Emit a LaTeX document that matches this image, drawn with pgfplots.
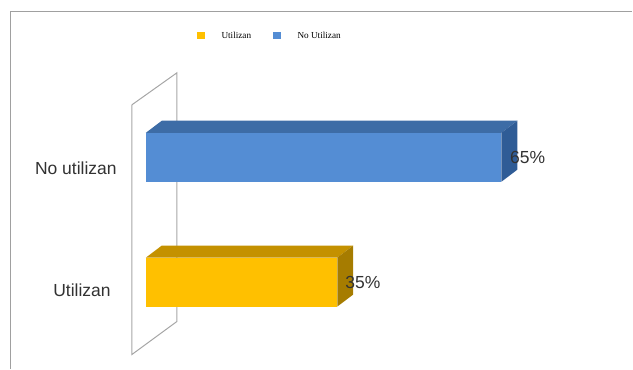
\documentclass[border=0pt]{standalone}
\usepackage{pgfplots}
\pgfplotsset{compat=1.18}
\usepackage{fontspec}
\setmainfont{Liberation Sans}
\newfontfamily\legfont{Liberation Serif}
\definecolor{blueF}{RGB}{84,141,212}
\definecolor{blueT}{RGB}{61,108,166}
\definecolor{blueS}{RGB}{47,92,150}
\definecolor{yelF}{RGB}{255,192,0}
\definecolor{yelT}{RGB}{196,145,0}
\definecolor{yelS}{RGB}{166,124,0}
\definecolor{wallgray}{RGB}{166,166,166}
\definecolor{framegray}{RGB}{160,160,160}
\definecolor{txtgray}{RGB}{50,50,50}
\begin{document}
\begin{tikzpicture}
\begin{axis}[
  width=633pt, height=369pt, scale only axis,
  xmin=-26.657, xmax=88.917, ymin=-0.692, ymax=2.26,
  axis lines=none, xtick=\empty, ytick=\empty,
  clip=false,
  /pgf/number format/assume math mode=true,
  legend image code/.code={\fill[#1,draw=none] (0pt,-3.7pt) rectangle (7.5pt,3.7pt);},
  legend style={at={(rel axis cs:0.3117,0.9141)}, anchor=north west,
    draw=none, fill=none, inner sep=0pt, outer sep=0pt,
    nodes={inner sep=0pt},
    font=\legfont\fontsize{9.2}{10}\selectfont,
    legend columns=2,
    /tikz/every odd column/.append style={column sep=17pt},
    /tikz/every even column/.append style={column sep=22pt}},
  legend cell align=left,
]
% bounding frame
\path (rel axis cs:0,0) rectangle (rel axis cs:1,1);
\draw[framegray, line width=1.6pt] (rel axis cs:0.0166,0) -- (rel axis cs:0.0166,0.9688) -- (rel axis cs:1,0.9688);
% back wall
\addplot[draw=wallgray, line width=1pt, fill=none, forget plot] coordinates {(-2.556,1.42) (5.66,1.676) (5.66,-0.316) (-2.556,-0.58) (-2.556,1.42)};
% 3D faces
\addplot[fill=yelT, draw=none, forget plot] coordinates {(0,0.196) (35,0.196) (37.92,0.293) (2.92,0.293) (0,0.196)};
\addplot[fill=yelS, draw=none, forget plot] coordinates {(35,0.196) (37.92,0.293) (37.92,-0.099) (35,-0.196) (35,0.196)};
\addplot[fill=blueT, draw=none, forget plot] coordinates {(0,1.196) (65,1.196) (67.92,1.293) (2.92,1.293) (0,1.196)};
\addplot[fill=blueS, draw=none, forget plot] coordinates {(65,1.196) (67.92,1.293) (67.92,0.901) (65,0.804) (65,1.196)};
% front faces (legend entries)
\addplot[xbar, bar width=0.392, bar shift=0pt, fill=yelF, draw=none,
  point meta=x, nodes near coords={\pgfmathprintnumber{\pgfplotspointmeta}\%},
  every node near coord/.append style={anchor=west, inner sep=0pt, xshift=8pt, text=txtgray, font=\fontsize{17.5}{20}\selectfont}]
  coordinates {(35,0)};
\addlegendentry{Utilizan}
\addplot[xbar, bar width=0.392, bar shift=0pt, fill=blueF, draw=none,
  point meta=x, nodes near coords={\pgfmathprintnumber{\pgfplotspointmeta}\%},
  every node near coord/.append style={anchor=west, inner sep=0pt, xshift=8.5pt, text=txtgray, font=\fontsize{17.5}{20}\selectfont}]
  coordinates {(65,1)};
\addlegendentry{No Utilizan}
% category labels
\node[anchor=east, inner sep=0pt, text=txtgray, font=\fontsize{17.5}{20}\selectfont] at (axis cs:-5.295,0.916) {No utilizan};
\node[anchor=east, inner sep=0pt, text=txtgray, font=\fontsize{17.5}{20}\selectfont] at (axis cs:-6.39,-0.068) {Utilizan};
\end{axis}
\end{tikzpicture}
\end{document}
